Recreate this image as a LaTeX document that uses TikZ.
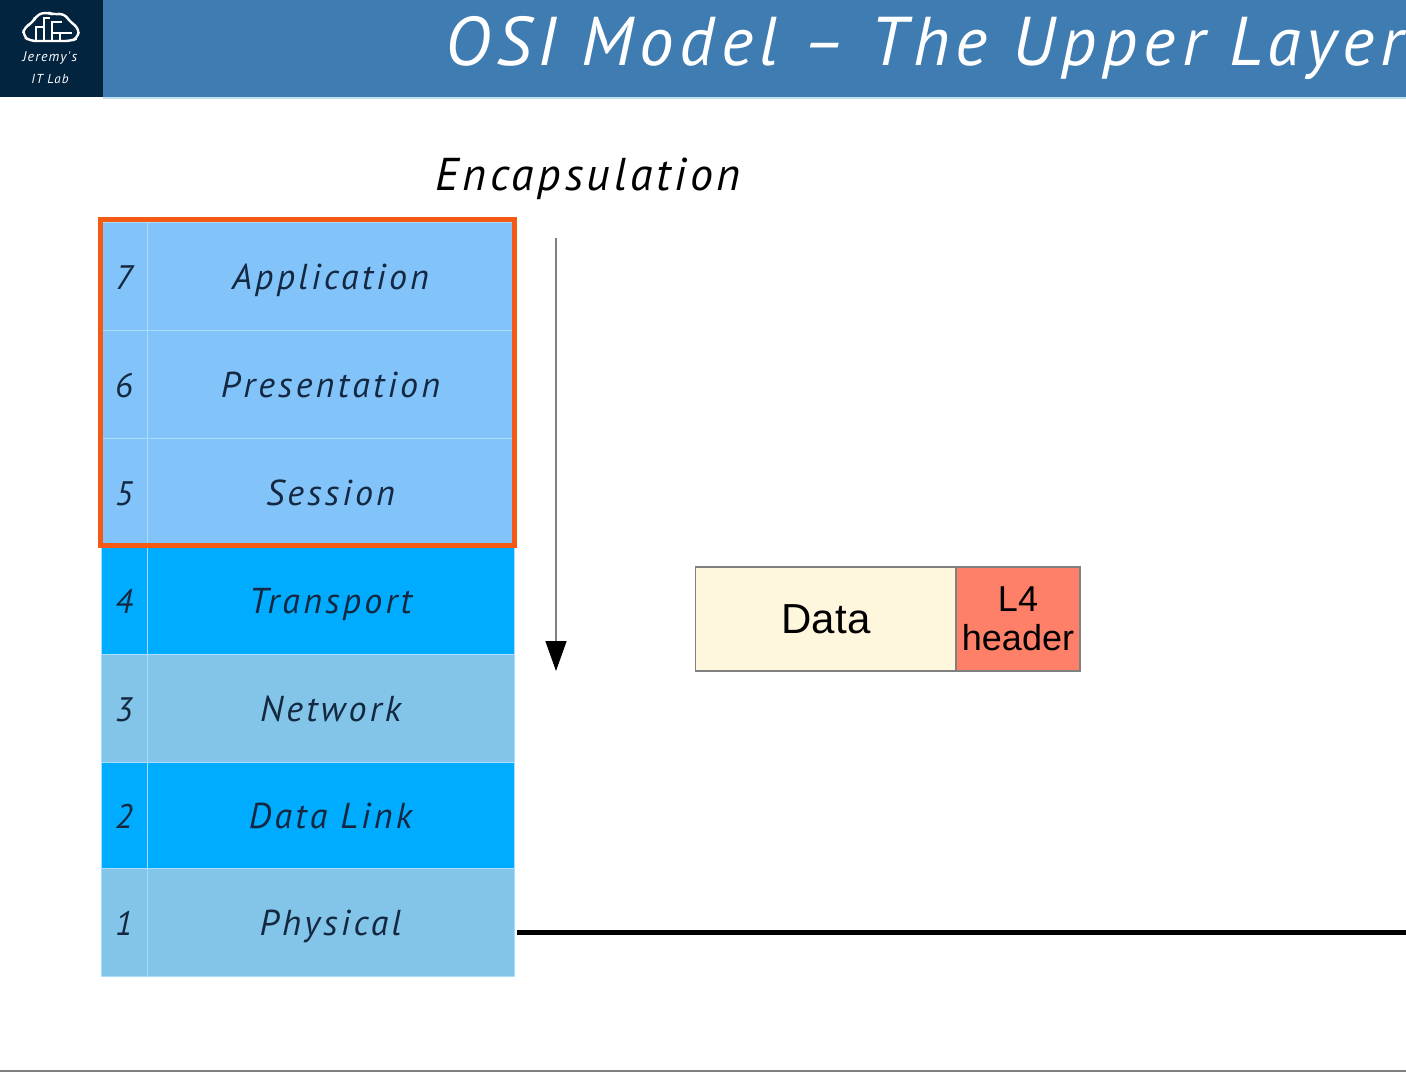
\documentclass[tikz,border=0pt]{standalone}
\usepackage{fontspec}
\setmainfont{Liberation Sans}
\newfontfamily\handfont[LetterSpace=9]{PT Sans}
\newfontfamily\handfontnarrow[LetterSpace=8]{PT Sans}
\usepackage{tikz}
\usetikzlibrary{arrows.meta, positioning, calc}
\definecolor{bandblue}{RGB}{63, 124, 178}
\definecolor{bandedge}{RGB}{190, 225, 235}
\definecolor{logonavy}{RGB}{3, 36, 63}
\definecolor{upperblue}{RGB}{130, 196, 250}
\definecolor{brightblue}{RGB}{0, 172, 255}
\definecolor{paleblue}{RGB}{130, 197, 232}
\definecolor{celledge}{RGB}{170, 222, 252}
\definecolor{inkblue}{RGB}{20, 40, 65}
\definecolor{markorange}{RGB}{245, 90, 20}
\definecolor{datacream}{RGB}{255, 246, 222}
\definecolor{headersalmon}{RGB}{255, 128, 104}
\tikzset{
  numcell/.style={draw=celledge, line width=1pt, minimum width=46pt, inner sep=0pt, text height=26pt, text depth=0pt, text=inkblue, font=\handfont\itshape\fontsize{34}{34}\selectfont},
  namecell/.style={draw=celledge, line width=1pt, minimum width=367pt, inner sep=0pt, text height=26pt, text depth=0pt, text=inkblue, font=\handfont\itshape\fontsize{36}{36}\selectfont},
  pdubox/.style={draw=gray, line width=1.2pt, minimum height=104pt, inner sep=0pt, align=center}
}
\begin{document}
\begin{tikzpicture}[x=1pt, y=-1pt]
  \useasboundingbox (0, 0) rectangle (1406, 1072);

  % Title band
  \node[fill=bandblue, minimum width=1303pt, minimum height=97pt, inner sep=0pt] (band) at (754.5, 48.5) {};
  \node[fill=logonavy, minimum width=103pt, minimum height=97pt, inner sep=0pt] (logo) at (51.5, 48.5) {};
  \node[anchor=base west, inner sep=0pt, text=white, font=\handfont\itshape\fontsize{69}{69}\selectfont] (title) at (445, 65) {OSI Model – The Upper Layer};
  \coordinate (bandleft) at (103, 98);
  \coordinate (bandright) at (1406, 98);
  \draw[bandedge, line width=2pt] (bandleft) -- (bandright);

  % Logo
  \draw[white, line width=2.4pt, rounded corners=6pt] (30, 41) -- (23, 36) -- (24, 27) -- (33, 23) -- (36, 15) -- (47, 12) -- (54, 15) -- (64, 13) -- (70, 22) -- (79, 28) -- (78, 38) -- (71, 41) -- cycle;
  \draw[white, line width=1.4pt] (36, 41) -- (36, 27) -- (44, 27) (44, 41) -- (44, 18) -- (50, 18) (52, 41) -- (52, 22) -- (62, 22) (52, 33) -- (72, 33) (60, 41) -- (60, 33);
  \node[text=white, font=\handfontnarrow\itshape\fontsize{14}{14}\selectfont, inner sep=0pt] (logoname) at (50, 58) {Jeremy's};
  \node[text=white, font=\handfontnarrow\itshape\fontsize{13}{13}\selectfont, inner sep=0pt] (logolab) at (50, 79) {IT Lab};

  % Layers
  \node[numcell, fill=upperblue, minimum height=108pt] (num7) at (124, 276) {7};
  \node[namecell, fill=upperblue, minimum height=108pt] (app) at (330.5, 276) {Application};
  \node[numcell, fill=upperblue, minimum height=108pt] (num6) at (124, 384) {6};
  \node[namecell, fill=upperblue, minimum height=108pt] (pres) at (330.5, 384) {Presentation};
  \node[numcell, fill=upperblue, minimum height=108pt] (num5) at (124, 492) {5};
  \node[namecell, fill=upperblue, minimum height=108pt] (sess) at (330.5, 492) {Session};
  \node[numcell, fill=brightblue, minimum height=108pt] (num4) at (124, 600) {4};
  \node[namecell, fill=brightblue, minimum height=108pt] (trans) at (330.5, 600) {Transport};
  \node[numcell, fill=paleblue, minimum height=108pt] (num3) at (124, 708) {3};
  \node[namecell, fill=paleblue, minimum height=108pt] (net) at (330.5, 708) {Network};
  \node[numcell, fill=brightblue, minimum height=106pt] (num2) at (124, 815) {2};
  \node[namecell, fill=brightblue, minimum height=106pt] (link) at (330.5, 815) {Data Link};
  \node[numcell, fill=paleblue, minimum height=108pt] (num1) at (124, 922) {1};
  \node[namecell, fill=paleblue, minimum height=108pt] (phys) at (330.5, 922) {Physical};

  % Upper layers mark
  \node[draw=markorange, line width=5pt, minimum width=414pt, minimum height=326pt, inner sep=0pt] (upper) at (307, 382.5) {};

  % Encapsulation
  \node[anchor=base, inner sep=0pt, text=black, font=\handfontnarrow\itshape\fontsize{46}{46}\selectfont] (encap) at (588, 190) {Encapsulation};
  \coordinate (encaptop) at (556, 238);
  \coordinate (encapend) at (556, 671);
  \draw[gray, line width=1.5pt, -{Triangle[length=30pt, width=21pt, fill=black, color=black]}] (encaptop) -- (encapend);

  % Data unit
  \node[pdubox, fill=datacream, minimum width=261pt, font=\fontsize{42}{42}\selectfont] (data) at (826, 619) {Data};
  \node[pdubox, fill=headersalmon, minimum width=124pt, font=\fontsize{36}{40}\selectfont] (hdr) at (1018, 619) {L4\\[-1pt]header};

  % Cable and bottom edge
  \coordinate (cablestart) at (517, 932);
  \coordinate (cableend) at (1406, 932);
  \draw[black, line width=5pt] (cablestart) -- (cableend);
  \coordinate (edgeleft) at (0, 1071);
  \coordinate (edgeright) at (1406, 1071);
  \draw[gray, line width=2pt] (edgeleft) -- (edgeright);
\end{tikzpicture}
\end{document}
